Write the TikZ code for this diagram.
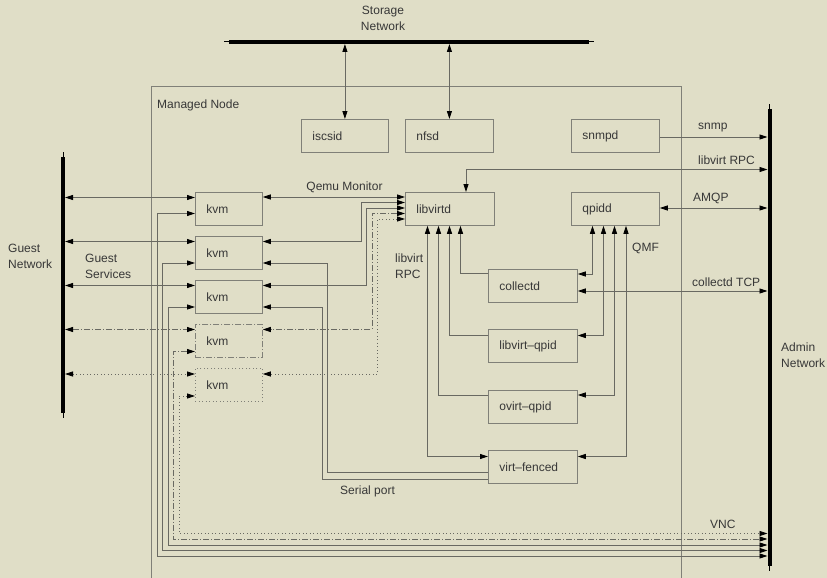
\documentclass[tikz,border=0pt]{standalone}
\usepackage{fontspec}
\setmainfont{Liberation Sans}
\usetikzlibrary{arrows.meta}
\definecolor{bg}{RGB}{224,222,199}
\definecolor{ln}{RGB}{105,105,98}
\definecolor{bx}{RGB}{128,128,120}
\definecolor{tx}{RGB}{55,55,55}
\begin{document}
\begin{tikzpicture}[x=1pt,y=-1pt, font=\fontsize{12}{16}\selectfont, text=tx,
  ah/.tip={Triangle[length=8pt,width=5pt,color=black]},
  conn/.style={draw=ln,line width=0.8pt},
  biarrow/.style={conn,ah-ah},
  arrowR/.style={conn,-ah},
  arrowL/.style={conn,ah-},
  dd/.style={dash pattern=on 6pt off 2pt on 1pt off 2pt},
  dt/.style={dash pattern=on 1pt off 2.5pt},
  box/.style={draw=bx,line width=0.8pt,anchor=north west,minimum height=33pt,inner xsep=11pt,inner ysep=0pt,align=left,text width=#1},
  lbl/.style={anchor=west,inner sep=0pt,align=left},
  bar/.style={line width=4pt,draw=black},
  barend/.style={line width=1pt,draw=black},
]
\useasboundingbox (0,0) rectangle (827,578);
\fill[bg] (0,0) rectangle (827,578);

% frame
\draw[draw=bx,line width=0.8pt] (151,578) -- (151,86) -- (681,86) -- (681,578);
\node[lbl] (mn) at (157,105) {Managed Node};

% bars
\coordinate (sL) at (224,42); \coordinate (sR) at (594,42);
\coordinate (gT) at (63,152); \coordinate (gB) at (63,418);
\coordinate (aT) at (769.5,104); \coordinate (aB) at (769.5,571);
\draw[barend] (sL) -- (sR);
\draw[bar,shorten <=5pt,shorten >=5pt] (sL) -- (sR);
\draw[barend] (gT) -- (gB);
\draw[bar,shorten <=5pt,shorten >=5pt] (gT) -- (gB);
\draw[barend] (aT) -- (aB);
\draw[bar,shorten <=5pt,shorten >=5pt] (aT) -- (aB);

% network labels
\node[anchor=center,inner sep=0pt,align=center] (stl) at (383,18.5) {Storage\\Network};
\node[lbl] (gnl) at (8,256.5) {Guest\\Network};
\node[lbl] (anl) at (781,355.5) {Admin\\Network};

% boxes
\node[box=65pt] (iscsid) at (301,119) {iscsid};
\node[box=66pt] (nfsd) at (405,119) {nfsd};
\node[box=66pt] (snmpd) at (571,119) {snmpd};
\node[box=67pt] (libvirtd) at (405,192) {libvirtd};
\node[box=66pt] (qpidd) at (571,192) {qpidd};
\node[box=67pt] (collectd) at (488,269) {collectd};
\node[box=67pt] (libvirtqpid) at (488,329) {libvirt\textendash qpid};
\node[box=67pt] (ovirtqpid) at (488,390) {ovirt\textendash qpid};
\node[box=67pt] (virtfenced) at (488,450) {virt\textendash fenced};
\node[box=45pt] (kvm1) at (195,192) {kvm};
\node[box=45pt] (kvm2) at (195,236) {kvm};
\node[box=45pt] (kvm3) at (195,280) {kvm};
\node[box=45pt,dd] (kvm4) at (195,324) {kvm};
\node[box=45pt,dt] (kvm5) at (195,368) {kvm};

% storage links
\draw[biarrow,shorten >=2pt] (iscsid.north) -- (iscsid.north |- sL);
\draw[biarrow,shorten >=2pt] (nfsd.north) -- (nfsd.north |- sL);

% guest network links
\coordinate (gn1) at (65,197.5);
\coordinate (gn2) at (65,241.5);
\coordinate (gn3) at (65,285.5);
\coordinate (gn4) at (65,329.5);
\coordinate (gn5) at (65,374);
\draw[biarrow] (gn1) -- (kvm1.west |- gn1);
\draw[biarrow] (gn2) -- (kvm2.west |- gn2);
\draw[biarrow] (gn3) -- (kvm3.west |- gn3);
\draw[biarrow,dd] (gn4) -- (kvm4.west |- gn4);
\draw[biarrow,dt] (gn5) -- (kvm5.west |- gn5);
\node[lbl] (gsl) at (85,266.5) {Guest\\Services};

% qemu monitor
\coordinate (qm) at (300,197);
\draw[biarrow] (kvm1.east |- qm) -- (libvirtd.west |- qm);
\node[anchor=center,inner sep=0pt] (qml) at (344.5,187.5) {Qemu Monitor};
\coordinate (lv2a) at (361,202.5); \coordinate (lv2b) at (361,241.5);
\coordinate (lv3a) at (366.5,208); \coordinate (lv3b) at (366.5,285.5);
\coordinate (lv4a) at (372,213.5); \coordinate (lv4b) at (372,329.5);
\coordinate (lv5a) at (377.5,219); \coordinate (lv5b) at (377.5,374);
\draw[biarrow] (libvirtd.west |- lv2a) -- (lv2a) -- (lv2b) -- (kvm2.east |- lv2b);
\draw[biarrow] (libvirtd.west |- lv3a) -- (lv3a) -- (lv3b) -- (kvm3.east |- lv3b);
\draw[biarrow,dd] (libvirtd.west |- lv4a) -- (lv4a) -- (lv4b) -- (kvm4.east |- lv4b);
\draw[biarrow,dt] (libvirtd.west |- lv5a) -- (lv5a) -- (lv5b) -- (kvm5.east |- lv5b);

% serial port
\coordinate (sp2a) at (327.5,263); \coordinate (sp2b) at (327.5,472.5);
\coordinate (sp3a) at (322,307); \coordinate (sp3b) at (322,479);
\draw[arrowL] (kvm2.east |- sp2a) -- (sp2a) -- (sp2b) -- (virtfenced.west |- sp2b);
\draw[arrowL] (kvm3.east |- sp3a) -- (sp3a) -- (sp3b) -- (virtfenced.west |- sp3b);
\node[lbl] (spl) at (340,491.5) {Serial port};

% VNC
\coordinate (v1a) at (157,213.5); \coordinate (v1b) at (157,556);
\coordinate (v2a) at (162.5,263); \coordinate (v2b) at (162.5,550.5);
\coordinate (v3a) at (168,307); \coordinate (v3b) at (168,545);
\coordinate (v4a) at (173.5,351.5); \coordinate (v4b) at (173.5,539);
\coordinate (v5a) at (179,396); \coordinate (v5b) at (179,533.5);
\draw[biarrow,shorten >=2pt] (kvm1.west |- v1a) -- (v1a) -- (v1b) -- (aT |- v1b);
\draw[biarrow,shorten >=2pt] (kvm2.west |- v2a) -- (v2a) -- (v2b) -- (aT |- v2b);
\draw[biarrow,shorten >=2pt] (kvm3.west |- v3a) -- (v3a) -- (v3b) -- (aT |- v3b);
\draw[biarrow,dd,shorten >=2pt] (kvm4.west |- v4a) -- (v4a) -- (v4b) -- (aT |- v4b);
\draw[biarrow,dt,shorten >=2pt] (kvm5.west |- v5a) -- (v5a) -- (v5b) -- (aT |- v5b);
\node[lbl] (vncl) at (710,524) {VNC};

% admin links
\coordinate (sn) at (700,137);
\coordinate (lr) at (466,169.5);
\coordinate (am) at (700,208);
\coordinate (ct) at (700,291);
\draw[arrowR,shorten >=2pt] (snmpd.east |- sn) -- (aT |- sn);
\draw[biarrow,shorten >=2pt] (libvirtd.north -| lr) -- (lr) -- (aT |- lr);
\draw[biarrow,shorten >=2pt] (qpidd.east |- am) -- (aT |- am);
\draw[biarrow,shorten >=2pt] (collectd.east |- ct) -- (aT |- ct);
\node[lbl] (snl) at (698,128) {snmp};
\node[lbl] (lrl) at (698,160) {libvirt RPC};
\node[lbl] (aml) at (693,198.5) {AMQP};
\node[lbl] (ctl) at (692,282) {collectd TCP};

% libvirtd bottom
\coordinate (c1) at (460.5,273.5);
\coordinate (c2) at (449.5,335.5);
\coordinate (c3) at (438.5,395);
\coordinate (c4) at (427.5,456.5);
\draw[arrowR] (collectd.west |- c1) -- (c1) -- (libvirtd.south -| c1);
\draw[arrowR] (libvirtqpid.west |- c2) -- (c2) -- (libvirtd.south -| c2);
\draw[arrowR] (ovirtqpid.west |- c3) -- (c3) -- (libvirtd.south -| c3);
\draw[biarrow] (virtfenced.west |- c4) -- (c4) -- (libvirtd.south -| c4);
\node[lbl] (rpcl) at (395,266.5) {libvirt\\RPC};

% qpidd bottom
\coordinate (q1) at (592.5,274);
\coordinate (q2) at (603.5,335.5);
\coordinate (q3) at (614.5,395);
\coordinate (q4) at (626,456.5);
\draw[biarrow] (collectd.east |- q1) -- (q1) -- (qpidd.south -| q1);
\draw[biarrow] (libvirtqpid.east |- q2) -- (q2) -- (qpidd.south -| q2);
\draw[biarrow] (ovirtqpid.east |- q3) -- (q3) -- (qpidd.south -| q3);
\draw[biarrow] (virtfenced.east |- q4) -- (q4) -- (qpidd.south -| q4);
\node[lbl] (qmfl) at (632,248) {QMF};
\end{tikzpicture}
\end{document}
